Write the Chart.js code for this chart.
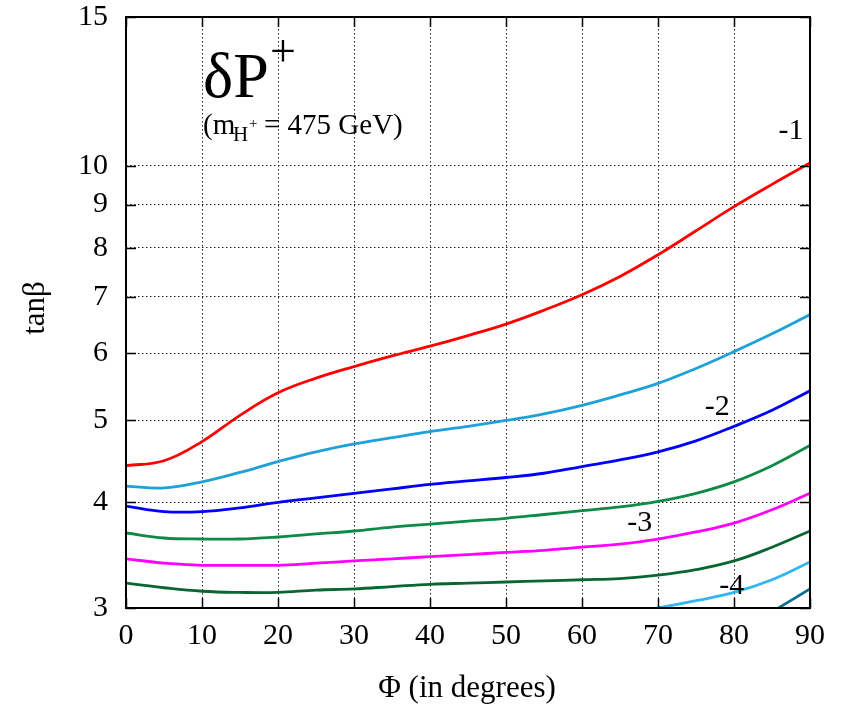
<!DOCTYPE html>
<html>
<head>
<meta charset="utf-8">
<script src="https://cdn.jsdelivr.net/npm/chart.js@4.4.1/dist/chart.umd.min.js"></script>
<style>
  html, body { margin: 0; padding: 0; background: #fff; }
  #chart { display: block; }
</style>
</head>
<body>
<canvas id="chart" width="851" height="708"></canvas>
<script>
/* DATA */
const phi = [0, 5, 10, 15, 20, 25, 30, 35, 40, 45, 50, 55, 60, 65, 70, 75, 80, 85, 90];
const xTicks = [0, 10, 20, 30, 40, 50, 60, 70, 80, 90];
const yTicks = [3, 4, 5, 6, 7, 8, 9, 10, 15];

const dp1 = [4.42, 4.48, 4.72, 5.07, 5.39, 5.61, 5.79, 5.96, 6.12, 6.30, 6.50, 6.75, 7.04, 7.40, 7.85, 8.38, 8.95, 9.51, 10.08];
const dp15 = [4.18, 4.16, 4.23, 4.34, 4.47, 4.59, 4.69, 4.77, 4.85, 4.92, 5.00, 5.09, 5.21, 5.36, 5.53, 5.76, 6.03, 6.33, 6.67];
const dp2 = [3.96, 3.90, 3.90, 3.94, 4.00, 4.05, 4.10, 4.15, 4.20, 4.24, 4.28, 4.33, 4.41, 4.49, 4.59, 4.73, 4.92, 5.14, 5.42];
const dp25 = [3.68, 3.63, 3.62, 3.62, 3.64, 3.67, 3.70, 3.74, 3.77, 3.80, 3.83, 3.87, 3.91, 3.95, 4.01, 4.10, 4.23, 4.42, 4.67];
const dp3 = [3.43, 3.39, 3.37, 3.37, 3.37, 3.39, 3.41, 3.43, 3.45, 3.47, 3.49, 3.51, 3.54, 3.57, 3.62, 3.69, 3.78, 3.92, 4.10];
const dp35 = [3.21, 3.17, 3.14, 3.13, 3.13, 3.15, 3.16, 3.18, 3.20, 3.21, 3.22, 3.23, 3.24, 3.25, 3.28, 3.33, 3.41, 3.54, 3.70];
const dp4 = [null, null, null, null, null, null, null, null, null, null, null, null, null, 2.95, 3.00, 3.06, 3.13, 3.24, 3.40];
const dp45 = [null, null, null, null, null, null, null, null, null, null, null, null, null, null, null, null, 2.80, 2.97, 3.16];

const seriesValues = [dp1, dp15, dp2, dp25, dp3, dp35, dp4, dp45];
const seriesColors = ["#ff0000", "#1da1d8", "#0000ff", "#0e8a46", "#ff00ff", "#0a6630", "#33b5f5", "#0b6e92"];

// contour labels (text, phi, tanBeta)
const labelText = ["-1", "-2", "-3", "-4"];
const labelPhi = [87.5, 77.8, 67.6, 79.7];
const labelTan = [10.98, 5.18, 3.78, 3.18];

const FONT = "'Liberation Serif', 'Times New Roman', serif";

// Frame, inward tick marks and text overlays
const overlay = {
  id: "overlay",
  afterDatasetsDraw(chart) {
    const { ctx, chartArea: a, scales } = chart;
    const x = scales.x, y = scales.y;
    ctx.save();
    ctx.strokeStyle = "#000";
    ctx.lineWidth = 1.5;
    // inward ticks
    ctx.beginPath();
    xTicks.forEach((v) => {
      const px = Math.round(x.getPixelForValue(v)) + 0.5;
      ctx.moveTo(px, a.bottom); ctx.lineTo(px, a.bottom - 10);
      ctx.moveTo(px, a.top); ctx.lineTo(px, a.top + 10);
    });
    yTicks.forEach((v) => {
      const py = Math.round(y.getPixelForValue(v)) + 0.5;
      ctx.moveTo(a.left, py); ctx.lineTo(a.left + 10, py);
      ctx.moveTo(a.right, py); ctx.lineTo(a.right - 10, py);
    });
    ctx.stroke();
    // frame
    ctx.lineWidth = 2;
    ctx.strokeRect(a.left, a.top, a.right - a.left, a.bottom - a.top);

    // contour labels
    ctx.fillStyle = "#000";
    ctx.font = "30px " + FONT;
    ctx.textAlign = "center";
    ctx.textBaseline = "middle";
    labelText.forEach((t, i) => {
      ctx.fillText(t, x.getPixelForValue(labelPhi[i]), y.getPixelForValue(labelTan[i]));
    });

    // title block
    ctx.textAlign = "left";
    ctx.textBaseline = "alphabetic";
    ctx.font = "64px " + FONT;
    ctx.fillText("\u03B4P", 203, 97);
    ctx.font = "46px " + FONT;
    ctx.fillText("+", 270, 66);

    ctx.font = "29px " + FONT;
    ctx.fillText("(m", 203, 134);
    ctx.font = "21px " + FONT;
    ctx.fillText("H", 233, 141);
    ctx.font = "15px " + FONT;
    ctx.fillText("+", 249, 128);
    ctx.font = "29px " + FONT;
    ctx.fillText("= 475 GeV)", 264, 134);

    // axis titles
    ctx.font = "31px " + FONT;
    ctx.textAlign = "center";
    ctx.textBaseline = "middle";
    ctx.fillText("\u03A6 (in degrees)", 467, 689);
    ctx.translate(36, 308);
    ctx.rotate(-Math.PI / 2);
    ctx.fillText("tan\u03B2", 0, 0);
    ctx.restore();
  },
};

new Chart("chart", {
  type: "line",
  data: {
    labels: phi,
    datasets: seriesValues.map((vals, i) => ({
      data: vals.map((v, j) => ({ x: phi[j], y: v })),
      borderColor: seriesColors[i],
      borderWidth: 2.8,
      pointRadius: 0,
      fill: false,
      tension: 0.4,
      spanGaps: false,
    })),
  },
  options: {
    responsive: false,
    animation: false,
    layout: { padding: { top: 17, right: 41, left: 0, bottom: 0 } },
    plugins: {
      legend: { display: false },
      tooltip: { enabled: false },
    },
    scales: {
      x: {
        type: "linear",
        min: 0,
        max: 90,
        afterBuildTicks: (s) => { s.ticks = xTicks.map((v) => ({ value: v })); },
        afterFit: (s) => { s.height = 100; },
        ticks: {
          color: "#000",
          font: { family: FONT, size: 30 },
          padding: 10,
          maxRotation: 0,
        },
        grid: { color: "#222", lineWidth: 1, drawTicks: false },
        border: { display: false, dash: [1.5, 2.5] },
      },
      y: {
        type: "logarithmic",
        min: 3,
        max: 15,
        afterBuildTicks: (s) => { s.ticks = yTicks.map((v) => ({ value: v })); },
        afterFit: (s) => { s.width = 126; s.paddingTop = 0; s.paddingBottom = 0; },
        ticks: {
          color: "#000",
          font: { family: FONT, size: 30 },
          padding: 18,
          callback: (v) => String(v),
        },
        grid: { color: "#222", lineWidth: 1, drawTicks: false },
        border: { display: false, dash: [1.5, 2.5] },
      },
    },
  },
  plugins: [overlay],
});
</script>
</body>
</html>
